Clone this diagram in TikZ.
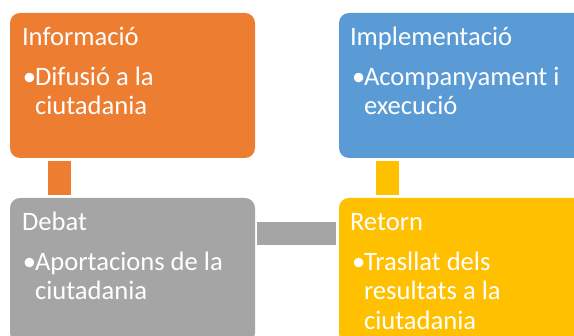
\documentclass[tikz,border=0pt]{standalone}
\usepackage{fontspec}
\setmainfont{Carlito}
\usetikzlibrary{calc}
\definecolor{cOrange}{HTML}{ED7D31}
\definecolor{cBlue}{HTML}{5B9BD5}
\definecolor{cGray}{HTML}{A5A5A5}
\definecolor{cYellow}{HTML}{FFC000}
\begin{document}
\begin{tikzpicture}[x=1pt,y=1pt,
  box/.style={rounded corners=10pt, minimum width=245pt, minimum height=145pt, inner sep=0pt, outer sep=0pt},
  txt/.style={anchor=base west, inner sep=0pt, outer sep=0pt, text=white, font=\fontsize{26.6}{30}\selectfont},
  bar/.style={line width=23pt}]
\useasboundingbox (0,0) rectangle (574,336);
\clip (0,0) rectangle (574,336);
% boxes
\node[box, fill=cOrange] (info) at (132.5,250.5) {};
\node[box, fill=cBlue] (impl) at (461.5,250.5) {};
\node[box, fill=cGray] (debat) at (132.5,65.5) {};
\node[box, fill=cYellow] (retorn) at (461.5,65.5) {};
% connectors
\draw[bar, cOrange] ($(info.south west)+(49.5,-3)$) -- ($(debat.north west)+(49.5,3)$);
\draw[bar, cYellow] ($(impl.south west)+(48.5,-3)$) -- ($(retorn.north west)+(48.5,3)$);
\draw[bar, cGray] ($(debat.north east)+(2,-35.5)$) -- ($(retorn.north west)+(-3,-35.5)$);
% texts: Informació
\node[txt] (infoH) at ($(info.north west)+(12,-33)$) {Informació};
\node[txt] (infoB) at ($(info.north west)+(13,-73)$) {•};
\node[txt] (infoL1) at ($(info.north west)+(25,-73)$) {Difusió a la};
\node[txt] (infoL2) at ($(info.north west)+(25,-102)$) {ciutadania};
% Implementació
\node[txt] (implH) at ($(impl.north west)+(11,-33)$) {Implementació};
\node[txt] (implB) at ($(impl.north west)+(13,-73)$) {•};
\node[txt] (implL1) at ($(impl.north west)+(25,-73)$) {Acompanyament i};
\node[txt] (implL2) at ($(impl.north west)+(25,-102)$) {execució};
% Debat
\node[txt] (debatH) at ($(debat.north west)+(12,-33)$) {Debat};
\node[txt] (debatB) at ($(debat.north west)+(13,-73)$) {•};
\node[txt] (debatL1) at ($(debat.north west)+(25,-73)$) {Aportacions de la};
\node[txt] (debatL2) at ($(debat.north west)+(25,-102)$) {ciutadania};
% Retorn
\node[txt] (retornH) at ($(retorn.north west)+(11,-33)$) {Retorn};
\node[txt] (retornB) at ($(retorn.north west)+(13,-73)$) {•};
\node[txt] (retornL1) at ($(retorn.north west)+(25,-73)$) {Trasllat dels};
\node[txt] (retornL2) at ($(retorn.north west)+(25,-102)$) {resultats a la};
\node[txt] (retornL3) at ($(retorn.north west)+(25,-132)$) {ciutadania};
\end{tikzpicture}
\end{document}
